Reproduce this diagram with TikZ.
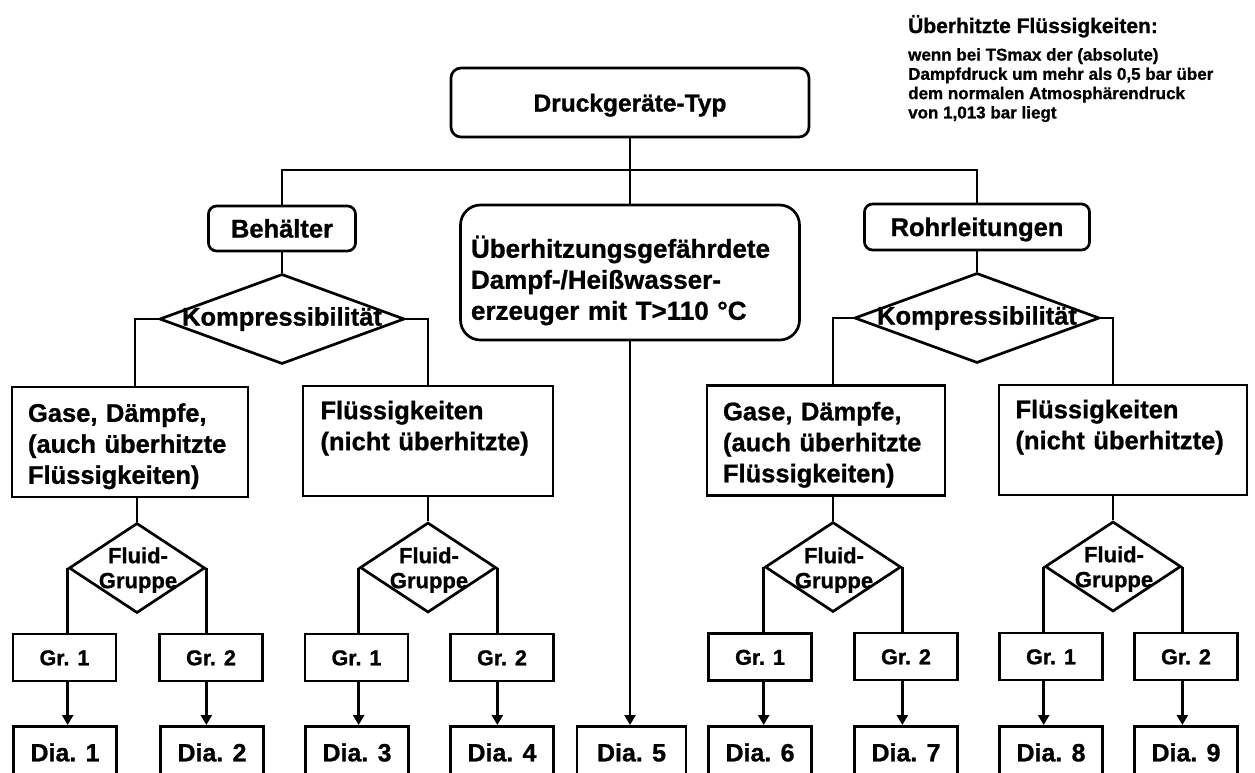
\documentclass[tikz,border=0pt]{standalone}
\usepackage{fontspec}
\setmainfont{Liberation Sans}[BoldFeatures={FakeBold=1}]
\usetikzlibrary{shapes.geometric,arrows.meta}
\begin{document}
\begin{tikzpicture}[x=1pt,y=-1pt,
  box/.style={draw,line width=2.7pt,rectangle,inner sep=0pt},
  rbox/.style={box,rounded corners=8pt},
  big/.style={font=\fontsize{25.5}{31}\selectfont\bfseries},
  one/.style={text height=18pt,text depth=0pt},
  txtbox/.style={box,big,align=left,minimum height=110pt},
  grbox/.style={box,one,text height=15.5pt,minimum width=103pt,minimum height=47pt,font=\fontsize{21.5}{25}\selectfont\bfseries},
  diabox/.style={box,one,minimum width=103pt,minimum height=52pt,anchor=north,font=\fontsize{25}{30}\selectfont\bfseries},
  kdia/.style={draw,diamond,line width=2.7pt,inner sep=0pt,minimum width=245pt,minimum height=90pt},
  fdia/.style={draw,diamond,line width=2.7pt,inner sep=0pt,minimum width=136pt,minimum height=90pt},
  ftext/.style={inner sep=0pt,align=center,font=\fontsize{22}{25}\selectfont\bfseries},
  ln/.style={line width=2.4pt},
  arr/.style={ln,-{Triangle[length=10pt,width=11pt]}}
]
\clip (0,0) rectangle (1255,772);
\fill[white] (0,0) rectangle (1255,772);

% note
\node[anchor=base west,inner sep=0pt,font=\fontsize{21}{24}\selectfont\bfseries] (nt) at (908,33) {Überhitzte Flüssigkeiten:};
\node[anchor=north west,inner sep=0pt,align=left,font=\fontsize{17}{19.3}\selectfont\bfseries] (nb) at (908,48) {wenn bei TSmax der (absolute)\\Dampfdruck um mehr als 0,5 bar über\\dem normalen Atmosphärendruck\\von 1,013 bar liegt};

% top level
\node[rbox,one,rounded corners=10pt,minimum width=358pt,minimum height=69pt,font=\fontsize{24.5}{30}\selectfont\bfseries] (top) at (630,102.5) {Druckgeräte-Typ};
\coordinate (hub) at (630,170);
\node[rbox,big,one,minimum width=147pt,minimum height=45pt] (beh) at (282,228.5) {Behälter};
\node[rbox,big,one,minimum width=225pt,minimum height=46pt] (rohr) at (977,227) {Rohrleitungen};
\node[box,rounded corners=20pt,align=left,text width=318pt,minimum width=339pt,minimum height=135pt,font=\fontsize{26}{31}\selectfont\bfseries] (mid) at (630,272.5) {\rule{0pt}{38pt}Überhitzungsgefährdete\\Dampf-/Heißwasser-\\erzeuger mit T>110 °C};

% Kompressibilitaet
\node[kdia] (k1) at (282,319) {};
\node[inner sep=0pt,big] (k1t) at (k1) {Kompressibilität};
\node[kdia] (k2) at (977,318) {};
\node[inner sep=0pt,big] (k2t) at (k2) {Kompressibilität};

% medium boxes
\node[txtbox,minimum width=236pt,text width=204pt] (gl) at (130,442) {\rule{0pt}{27pt}Gase, Dämpfe,\\(auch überhitzte\\Flüssigkeiten)};
\node[txtbox,minimum width=250pt,text width=215pt] (fl) at (428,441) {Flüssigkeiten\\(nicht überhitzte)\\\rule{0pt}{0pt}};
\node[txtbox,minimum width=238pt,text width=206pt] (gr) at (826,440.5) {\rule{0pt}{27pt}Gase, Dämpfe,\\(auch überhitzte\\Flüssigkeiten)};
\node[txtbox,minimum width=248pt,text width=215pt] (fr) at (1123,440) {Flüssigkeiten\\(nicht überhitzte)\\\rule{0pt}{0pt}};

% fluid diamonds
\node[fdia] (f1) at (137,568) {};
\node[ftext] (f1t) at (138,570) {Fluid-\\Gruppe};
\node[fdia] (f2) at (428,567.5) {};
\node[ftext] (f2t) at (429,570) {Fluid-\\Gruppe};
\node[fdia] (f3) at (833,567) {};
\node[ftext] (f3t) at (834,570) {Fluid-\\Gruppe};
\node[fdia] (f4) at (1113,566.5) {};
\node[ftext] (f4t) at (1114,569) {Fluid-\\Gruppe};

% groups
\node[grbox] (g1) at (64.5,657.5) {Gr. 1};
\node[grbox] (g2) at (211,657.5) {Gr. 2};
\node[grbox] (g3) at (356.5,657.5) {Gr. 1};
\node[grbox] (g4) at (502,657.5) {Gr. 2};
\node[grbox] (g5) at (760,657) {Gr. 1};
\node[grbox] (g6) at (906,656.5) {Gr. 2};
\node[grbox] (g7) at (1051,656.5) {Gr. 1};
\node[grbox] (g8) at (1186,656.5) {Gr. 2};

% diagrams
\node[diabox] (d1) at (65,725) {Dia. 1};
\node[diabox] (d2) at (212,725) {Dia. 2};
\node[diabox] (d3) at (357,725) {Dia. 3};
\node[diabox] (d4) at (502,725) {Dia. 4};
\node[diabox,minimum width=109pt] (d5) at (631.5,725) {Dia. 5};
\node[diabox] (d6) at (760,725) {Dia. 6};
\node[diabox] (d7) at (906,725) {Dia. 7};
\node[diabox] (d8) at (1051,725) {Dia. 8};
\node[diabox] (d9) at (1186,725) {Dia. 9};

% connectors
\draw[ln] (top.south) -- (hub);
\draw[ln] (beh.north) |- (hub) -| (rohr.north);
\draw[ln] (hub) -- (mid.north);
\draw[arr] (mid.south) -- (mid.south |- d5.north);
\draw[ln] (beh.south) -- (k1.north);
\draw[ln] (rohr.south) -- (k2.north);
\draw[ln] (k1.west) -| ([xshift=5pt]gl.north);
\draw[ln] (k1.east) -| (fl.north);
\draw[ln] (k2.west) -| ([xshift=7pt]gr.north);
\draw[ln] (k2.east) -| ([xshift=-10pt]fr.north);
\draw[ln] (gl.south -| f1.north) -- (f1.north);
\draw[ln] (fl.south -| f2.north) -- (f2.north);
\draw[ln] (gr.south -| f3.north) -- (f3.north);
\draw[ln] (fr.south -| f4.north) -- (f4.north);
\foreach \f/\a/\b/\da/\db in {f1/g1/g2/d1/d2, f2/g3/g4/d3/d4, f3/g5/g6/d6/d7, f4/g7/g8/d8/d9}{
  \draw[ln] (\f.west) -- (\f.west |- \a.north);
  \draw[ln] (\f.east) -- (\f.east |- \b.north);
  \draw[arr] (\f.west |- \a.south) -- (\f.west |- \da.north);
  \draw[arr] (\f.east |- \b.south) -- (\f.east |- \db.north);
}
\end{tikzpicture}
\end{document}
